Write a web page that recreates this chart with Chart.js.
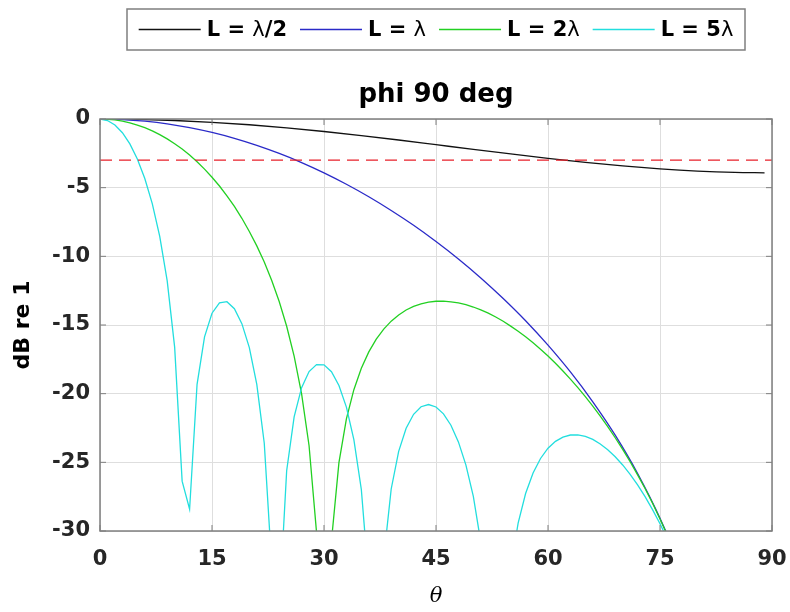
<!DOCTYPE html>
<html>
<head>
<meta charset="utf-8">
<script src="https://cdn.jsdelivr.net/npm/chart.js@4.4.1/dist/chart.umd.min.js"></script>
<style>
  html, body { margin: 0; padding: 0; background: #fff; }
  canvas { display: block; }
</style>
</head>
<body>
<canvas id="grafico" width="790" height="612"></canvas>
<script>
// angulos (graus)
var angulos = [0,1,2,3,4,5,6,7,8,9,10,11,12,13,14,15,16,17,18,19,20,21,22,23,24,25,26,27,28,29,
  30,31,32,33,34,35,36,37,38,39,40,41,42,43,44,45,46,47,48,49,50,51,52,53,54,55,56,57,58,59,
  60,61,62,63,64,65,66,67,68,69,70,71,72,73,74,75,76,77,78,79,80,81,82,83,84,85,86,87,88,89];

// L = lambda/2 (curva suave, lida a cada 5 graus)
var angMeio = [0,5,10,15,20,25,30,35,40,45,50,55,60,65,70,75,80,85,89];
var dbMeio = [0,-0.03,-0.11,-0.24,-0.42,-0.65,-0.91,-1.21,-1.53,-1.87,-2.21,-2.54,-2.87,-3.16,-3.42,-3.63,-3.79,-3.89,-3.92];

// L = lambda (lida a cada 3 graus)
var angUm = [0,3,6,9,12,15,18,21,24,27,30,33,36,39,42,45,48,51,54,57,60,63,66,69,72,75,78,81];
var dbUm = [0,-0.04,-0.16,-0.35,-0.63,-0.98,-1.41,-1.92,-2.51,-3.17,-3.92,-4.75,-5.66,-6.66,-7.74,-8.92,
  -10.19,-11.57,-13.07,-14.69,-16.47,-18.42,-20.59,-23.02,-25.81,-29.07,-33.02,-38.1];

// L = 2 lambda (1 em 1 grau)
var dbDois = [0,-0.02,-0.07,-0.16,-0.28,-0.44,-0.63,-0.87,-1.14,-1.45,-1.80,-2.19,-2.63,-3.11,-3.65,-4.24,
  -4.88,-5.59,-6.37,-7.23,-8.19,-9.24,-10.42,-11.76,-13.29,-15.09,-17.26,-20.01,-23.79,-30.09,-100,
  -30.71,-25.02,-21.84,-19.71,-18.15,-16.96,-16.03,-15.30,-14.72,-14.27,-13.91,-13.65,-13.46,-13.34,
  -13.27,-13.26,-13.31,-13.39,-13.52,-13.69,-13.90,-14.14,-14.42,-14.73,-15.08,-15.45,-15.86,-16.30,
  -16.76,-17.26,-17.79,-18.35,-18.94,-19.56,-20.22,-20.91,-21.64,-22.40,-23.21,-24.06,-24.96,-25.91,
  -26.91,-27.98,-29.12,-30.33,-31.64,-33.05];

// L = 5 lambda (1 em 1 grau)
var dbCinco = [0,-0.11,-0.44,-1.00,-1.81,-2.91,-4.33,-6.16,-8.55,-11.79,-16.63,-26.37,-28.41,-19.32,
  -15.86,-14.14,-13.38,-13.30,-13.81,-14.90,-16.65,-19.33,-23.61,-32.53,-35.63,-25.61,-21.69,-19.56,
  -18.39,-17.88,-17.90,-18.40,-19.40,-20.98,-23.34,-26.98,-33.70,-50.43,-31.98,-26.94,-24.20,-22.52,
  -21.50,-20.95,-20.79,-20.97,-21.47,-22.30,-23.51,-25.18,-27.48,-30.82,-36.40,-55.4,-39.09,-32.75,
  -29.42,-27.27,-25.78,-24.72,-23.97,-23.47,-23.16,-23.01,-23.00,-23.11,-23.33,-23.66,-24.08,-24.59,
  -25.19,-25.87,-26.64,-27.50,-28.44,-29.47,-30.60,-31.83,-33.19];

// linha de -3 dB
var angRef = [0, 90];
var dbRef = [-3, -3];

var xTicks = [0, 15, 30, 45, 60, 75, 90];
var titulo = 'phi 90 deg';
var rotuloY = 'dB re 1';
var rotuloX = 'θ';

var fonte = '"DejaVu Sans", sans-serif';
var corEixo = '#7f7f7f';

function pontos(xs, ys) {
  return ys.map(function(v, i) { return { x: xs[i], y: v }; });
}

var data = {
  datasets: [
    { label: 'L = λ/2', data: pontos(angMeio, dbMeio), borderColor: '#111111', cubicInterpolationMode: 'monotone', order: 4 },
    { label: 'L = λ', data: pontos(angUm, dbUm), borderColor: '#2a2ac8', cubicInterpolationMode: 'monotone', order: 3 },
    { label: 'L = 2λ', data: pontos(angulos, dbDois), borderColor: '#22d022', order: 2 },
    { label: 'L = 5λ', data: pontos(angulos, dbCinco), borderColor: '#22dede', order: 1 },
    { label: '', data: pontos(angRef, dbRef), borderColor: '#e8202a', borderDash: [12, 7], order: 0 }
  ]
};

function textoMisto(ctx, txt, x, y, tamanho) {
  // lambda em fonte normal, resto em negrito (como o interpretador tex)
  var partes = txt.split(/(λ)/).filter(function(p) { return p.length; });
  var largura = 0;
  partes.forEach(function(p) {
    ctx.font = (p === 'λ' ? '' : 'bold ') + tamanho + 'px ' + fonte;
    largura += ctx.measureText(p).width;
  });
  if (x === null) return largura;
  partes.forEach(function(p) {
    ctx.font = (p === 'λ' ? '' : 'bold ') + tamanho + 'px ' + fonte;
    ctx.fillText(p, x, y);
    x += ctx.measureText(p).width;
  });
  return largura;
}

var moldura = {
  id: 'moldura',
  afterDraw: function(chart) {
    var ctx = chart.ctx, a = chart.chartArea;
    var sx = chart.scales.x, sy = chart.scales.y;
    var centro = (a.left + a.right) / 2;
    ctx.save();

    // caixa dos eixos
    ctx.strokeStyle = corEixo;
    ctx.lineWidth = 1.5;
    ctx.strokeRect(a.left, a.top, a.right - a.left, a.bottom - a.top);

    // marcas para dentro
    ctx.lineWidth = 1;
    ctx.beginPath();
    sx.ticks.forEach(function(t) {
      var px = sx.getPixelForValue(t.value);
      ctx.moveTo(px, a.bottom); ctx.lineTo(px, a.bottom - 6);
      ctx.moveTo(px, a.top); ctx.lineTo(px, a.top + 6);
    });
    sy.ticks.forEach(function(t) {
      var py = sy.getPixelForValue(t.value);
      ctx.moveTo(a.left, py); ctx.lineTo(a.left + 6, py);
      ctx.moveTo(a.right, py); ctx.lineTo(a.right - 6, py);
    });
    ctx.stroke();

    // titulo
    ctx.fillStyle = '#000';
    ctx.textAlign = 'center';
    ctx.textBaseline = 'alphabetic';
    ctx.font = 'bold 26px ' + fonte;
    ctx.fillText(titulo, centro, 102);

    // rotulo x
    ctx.textBaseline = 'middle';
    ctx.font = 'italic 21px "DejaVu Serif", serif';
    ctx.fillText(rotuloX, centro, 597);

    // rotulo y
    ctx.save();
    ctx.translate(23, (a.top + a.bottom) / 2);
    ctx.rotate(-Math.PI / 2);
    ctx.font = 'bold 22px ' + fonte;
    ctx.fillText(rotuloY, 0, 0);
    ctx.restore();

    // legenda
    var itens = chart.data.datasets.filter(function(d) { return d.label; });
    var caixa = { left: 127, right: 745, top: 9, bottom: 50 };
    ctx.fillStyle = '#fff';
    ctx.fillRect(caixa.left, caixa.top, caixa.right - caixa.left, caixa.bottom - caixa.top);
    ctx.strokeStyle = corEixo;
    ctx.lineWidth = 1.5;
    ctx.strokeRect(caixa.left, caixa.top, caixa.right - caixa.left, caixa.bottom - caixa.top);

    ctx.textAlign = 'left';
    var larguras = itens.map(function(d) { return textoMisto(ctx, d.label, null, 0, 21); });
    var total = 0;
    larguras.forEach(function(w) { total += 62 + 6 + w; });
    total += 13 * (itens.length - 1);
    var x = (caixa.left + caixa.right) / 2 - total / 2;
    var yl = (caixa.top + caixa.bottom) / 2;
    itens.forEach(function(d, i) {
      ctx.strokeStyle = d.borderColor;
      ctx.lineWidth = 1.3;
      ctx.beginPath();
      ctx.moveTo(x, yl); ctx.lineTo(x + 62, yl);
      ctx.stroke();
      ctx.fillStyle = '#000';
      textoMisto(ctx, d.label, x + 68, yl + 1, 21);
      x += 62 + 6 + larguras[i] + 13;
    });
    ctx.restore();
  }
};

var config = {
  type: 'line',
  data: data,
  options: {
    responsive: false,
    animation: false,
    layout: { padding: { top: 119, right: 18, left: 0, bottom: 0 } },
    elements: {
      point: { radius: 0 },
      line: { borderWidth: 1.3, fill: false }
    },
    plugins: {
      legend: { display: false },
      tooltip: { enabled: false }
    },
    scales: {
      x: {
        type: 'linear',
        min: 0,
        max: 90,
        afterBuildTicks: function(s) { s.ticks = xTicks.map(function(v) { return { value: v }; }); },
        afterFit: function(s) { s.height = 81; s.paddingLeft = 0; s.paddingRight = 0; },
        ticks: { padding: 16, color: '#262626', font: { family: fonte, size: 21, weight: 'bold' } },
        grid: { color: '#dedede', drawTicks: false },
        border: { display: false }
      },
      y: {
        min: -30,
        max: 0,
        afterFit: function(s) { s.width = 100; s.paddingTop = 0; s.paddingBottom = 0; },
        ticks: { stepSize: 5, padding: 10, color: '#262626', font: { family: fonte, size: 21, weight: 'bold' } },
        grid: { color: '#dedede', drawTicks: false },
        border: { display: false }
      }
    }
  },
  plugins: [moldura]
};

var ctx = document.getElementById('grafico').getContext('2d');
var myChart = new Chart(ctx, config);
</script>
</body>
</html>
